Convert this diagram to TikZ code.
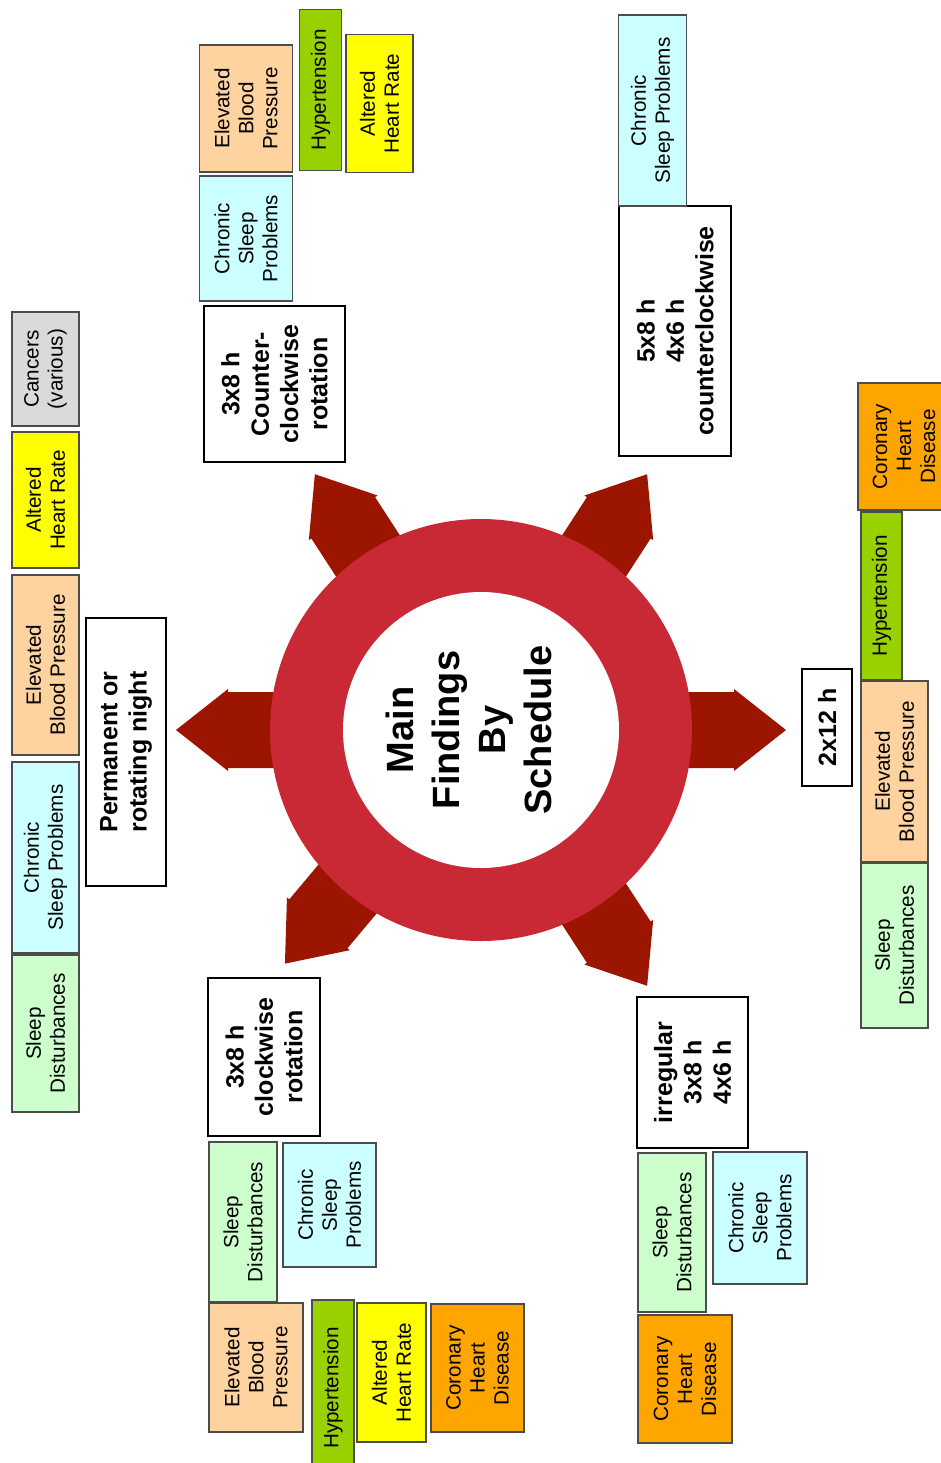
\documentclass[tikz,border=0pt]{standalone}
\usepackage{fontspec}
\setmainfont{Liberation Sans}

\definecolor{ringred}{HTML}{C92835}
\definecolor{arrowred}{HTML}{9C1500}
\definecolor{sleepgreen}{HTML}{CCFFCC}
\definecolor{sleepcyan}{HTML}{CCFFFF}
\definecolor{bppeach}{HTML}{FFD3A0}
\definecolor{hryellow}{HTML}{FFFF00}
\definecolor{hypgreen}{HTML}{99D100}
\definecolor{chdorange}{HTML}{FFA500}
\definecolor{cangray}{HTML}{DADADA}

\tikzset{
  % size in pixel units: extent along the text, extent across it
  px/.style 2 args={minimum width={#1*0.75pt}, minimum height={#2*0.75pt}},
  finding/.style={draw=black!70, line width=1.1pt, rotate=90, inner sep=0pt,
    align=center, font=\fontsize{15.5}{18}\selectfont},
  sched/.style={draw=black, line width=2.2pt, fill=white, rotate=90, inner sep=0pt,
    align=center, font=\fontsize{18.75}{22}\selectfont\bfseries},
  sd/.style={finding, fill=sleepgreen},
  csp/.style={finding, fill=sleepcyan},
  ebp/.style={finding, fill=bppeach},
  ahr/.style={finding, fill=hryellow},
  hyp/.style={finding, fill=hypgreen},
  chd/.style={finding, fill=chdorange},
  can/.style={finding, fill=cangray},
  spoke/.style={fill=arrowred}
}

\begin{document}
\begin{tikzpicture}[x=0.75pt, y=-0.75pt]
\useasboundingbox (0,0) rectangle (941,1463);

% six spokes leaving the hub
\foreach \ang in {180,123,57,0,303,230}{
  \begin{scope}[shift={(481,730)}, rotate=\ang]
    \fill[spoke] (175,-38) -- (253,-38) -- (253,-41) -- (305,0)
      -- (253,41) -- (253,38) -- (175,38) -- cycle;
  \end{scope}
}

% hub ring with a white centre
\fill[ringred] (481,730) circle[radius=158.25pt];
\fill[white] (481,730) circle[radius=103.5pt];
\node[rotate=90, align=center, font=\fontsize{28.5}{34.5}\selectfont\bfseries]
  (hub) at (469,730) {Main\\Findings\\By\\Schedule};

% permanent or rotating night
\node[sched, px={268}{80}] (pn) at (126,752) {Permanent or\\rotating night};
\node[sd,  px={157}{67}] (pnsd)  at (45.5,1033.5) {Sleep\\Disturbances};
\node[csp, px={191}{67}] (pncsp) at (45.5,857.5) {Chronic\\Sleep Problems};
\node[ebp, px={180}{67}] (pnebp) at (45.5,665) {Elevated\\Blood Pressure};
\node[ahr, px={136}{67}] (pnahr) at (45.5,500) {Altered\\Heart Rate};
\node[can, px={114}{67}] (pncan) at (45.5,369) {Cancers\\(various)};

% 3x8 h counter-clockwise rotation
\node[sched, px={156}{141}] (ccw) at (274.5,384) {3x8 h\\Counter-\\clockwise\\rotation};
\node[csp, px={125}{93}] (ccwcsp) at (246,238.5) {Chronic\\Sleep\\Problems};
\node[ebp, px={127}{93}] (ccwebp) at (246,108.5) {Elevated\\Blood\\Pressure};
\node[hyp, px={161}{42}] (ccwhyp) at (320.5,90) {Hypertension};
\node[ahr, px={138}{67}] (ccwahr) at (379.5,103.5) {Altered\\Heart Rate};

% 5x8 h / 4x6 h counterclockwise
\node[sched, px={250}{112}] (fiv) at (675,331) {5x8 h\\4x6 h\\counterclockwise};
\node[csp, px={191}{68}] (fivcsp) at (652.5,110.5) {Chronic\\Sleep Problems};

% 2x12 h
\node[sched, px={117}{50}] (twl) at (827,727.5) {2x12 h};
\node[chd, px={127}{92}] (twlchd) at (904,446.5) {Coronary\\Heart\\Disease};
\node[hyp, px={168}{41}] (twlhyp) at (881.5,596) {Hypertension};
\node[ebp, px={181}{67}] (twlebp) at (894.5,771.5) {Elevated\\Blood Pressure};
\node[sd,  px={165}{67}] (twlsd)  at (894.5,945.5) {Sleep\\Disturbances};

% 3x8 h clockwise rotation
\node[sched, px={158}{112}] (cw) at (264,1057) {3x8 h\\clockwise\\rotation};
\node[sd,  px={160}{68}] (cwsd)  at (243,1222) {Sleep\\Disturbances};
\node[csp, px={124}{93}] (cwcsp) at (329.5,1205) {Chronic\\Sleep\\Problems};
\node[ebp, px={129}{94}] (cwebp) at (256,1367.5) {Elevated\\Blood\\Pressure};
\node[hyp, px={176}{42}] (cwhyp) at (333,1388) {Hypertension};
\node[ahr, px={139}{69}] (cwahr) at (391.5,1372.5) {Altered\\Heart Rate};
\node[chd, px={128}{93}] (cwchd) at (477.5,1368) {Coronary\\Heart\\Disease};

% irregular
\node[sched, px={151}{111}] (irr) at (692.5,1072.5) {irregular\\3x8 h\\4x6 h};
\node[sd,  px={159}{68}] (irrsd)  at (672,1232.5) {Sleep\\Disturbances};
\node[csp, px={132}{94}] (irrcsp) at (760,1218) {Chronic\\Sleep\\Problems};
\node[chd, px={128}{94}] (irrchd) at (685,1379) {Coronary\\Heart\\Disease};
\end{tikzpicture}
\end{document}
